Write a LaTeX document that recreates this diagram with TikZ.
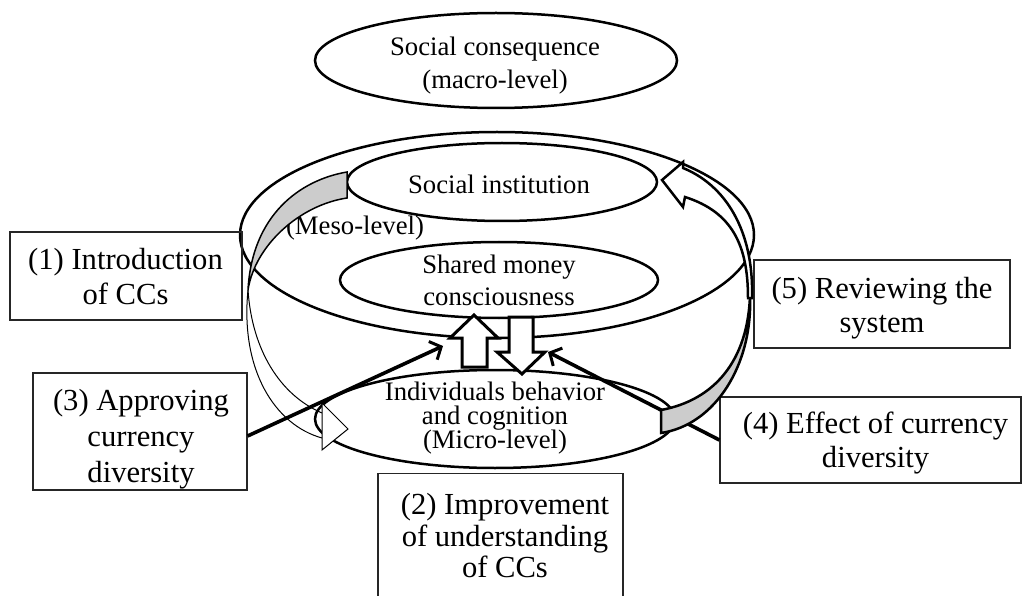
\documentclass[tikz,border=0pt]{standalone}
\usepackage{fontspec}
\setmainfont{Liberation Serif}
\newcommand\flp{\hspace*{0.45em}(}
\newcommand\frp{)\hspace*{0.45em}}
\usetikzlibrary{arrows.meta,shapes.geometric}
\lineskiplimit=-100pt
\begin{document}
\begin{tikzpicture}[x=1pt,y=-1pt,
  ell/.style={draw=black, line width=2.5pt, ellipse, inner sep=0pt, outer sep=0pt},
  box/.style={draw=black!85, line width=1.2pt, rectangle, inner sep=0pt},
  bigtxt/.style={font=\fontsize{30.6}{35}\selectfont, align=center, inner sep=0pt, text=black},
  smalltxt/.style={font=\fontsize{26.7}{32}\selectfont, align=center, inner sep=0pt, text=black},
  conn/.style={line width=3.6pt, -{Straight Barb[length=9pt,width=20pt,line width=3pt]}},
  blockarrow/.style={fill=white, draw=black, line width=3pt, line join=miter},
  ribbongray/.style={fill=gray!40, draw=black},
]
\useasboundingbox (0,0) rectangle (1023,596);

% ---- ellipses ----
\node[ell, minimum width=514pt, minimum height=206pt] (meso) at (497,235) {};
\node[ell, minimum width=310pt, minimum height=78pt] (inst) at (502,182) {};
\node[ell, minimum width=318pt, minimum height=76pt] (shared) at (499,280) {};
\node[ell, minimum width=360pt, minimum height=98pt] (micro) at (495,419) {};
\node[ell, minimum width=362pt, minimum height=95pt] (macro) at (496,60.5) {};

% ---- ellipse texts ----
\node[smalltxt, font=\fontsize{26.7}{33}\selectfont] (macrotxt) at (495,66) {Social consequence\\\flp macro-level\frp};
\node[smalltxt] (insttxt) at (499,184) {Social institution};
\node[smalltxt] (mesotxt) at (355,228) {(Meso-level)};
\node[smalltxt, font=\fontsize{26.7}{32}\selectfont] (sharedtxt) at (499,280) {Shared money\\consciousness};
\node[smalltxt, font=\fontsize{26.7}{24}\selectfont] (microtxt) at (495,418.5) {Individuals behavior\\and cognition\\\flp Micro-level\frp};

% ---- block arrows between levels ----
\filldraw[blockarrow] (462,367) -- (462,338) -- (450,338) -- (474,315) -- (498,338) -- (487,338) -- (487,367) -- cycle;
\filldraw[blockarrow] (509,317) -- (533,317) -- (533,352) -- (545,352) -- (522,374) -- (497,352) -- (509,352) -- cycle;

% ---- boxes ----
\node[box, minimum width=232pt, minimum height=88pt] (b1) at (126,276) {};
\node[box, minimum width=214pt, minimum height=117pt] (b3) at (140,431.5) {};
\node[box, minimum width=256pt, minimum height=88pt] (b5) at (882,304) {};
\node[box, minimum width=301pt, minimum height=86pt] (b4) at (870.5,440) {};
\node[box, minimum width=245pt, minimum height=170pt, anchor=north] (b2) at (500.5,473) {};

\node[bigtxt] (t1) at (125.5,277) {(1) Introduction\\of CCs};
\node[bigtxt, font=\fontsize{30.6}{36}\selectfont] (t3) at (141,439) {(3) Approving\\currency\\diversity};
\node[bigtxt, font=\fontsize{30.6}{34}\selectfont] (t5) at (882,308) {(5) Reviewing the\\system};
\node[bigtxt, font=\fontsize{30.6}{34}\selectfont] (t4) at (875.5,443) {(4) Effect of currency\\diversity};
\node[bigtxt, font=\fontsize{30.6}{31.5}\selectfont] (t2) at (505,536) {(2) Improvement\\of understanding\\of CCs};

% ---- straight arrows (3) and (4) ----
\coordinate (tip3) at (443,346);
\coordinate (tip4) at (548,352);
\draw[conn] (b4.west) -- (tip4);

% ---- curved ribbon arrow (1) ----
\filldraw[ribbongray, line width=1.5pt] (347,172) .. controls (300,180) and (252,215) .. (248,290)
   .. controls (255,245) and (300,205) .. (347,198) -- cycle;
\draw[line width=1pt] (248,290) .. controls (240,370) and (275,425) .. (322,438);
\draw[line width=1pt] (248,290) .. controls (252,350) and (280,395) .. (322,413);
\draw[conn] ([yshift=-4.5pt]b3.east) -- (tip3);
\filldraw[fill=white, draw=black, line width=1pt, line join=miter] (322,403) -- (348,429) -- (322,450) -- cycle;

% ---- curved ribbon arrow (5) ----
\filldraw[ribbongray, line width=2.5pt, line join=miter] (661,410) .. controls (715,400) and (748,360) .. (750,295)
   .. controls (753,365) and (715,425) .. (661,433) -- cycle;
\filldraw[fill=white, draw=black, line width=2.5pt, line join=miter]
   (752,298) .. controls (754,230) and (725,185) .. (683,168) -- (683,162) -- (662,180) -- (683,207) -- (685,197)
   .. controls (732,212) and (748,245) .. (748,298) -- cycle;
\end{tikzpicture}
\end{document}
